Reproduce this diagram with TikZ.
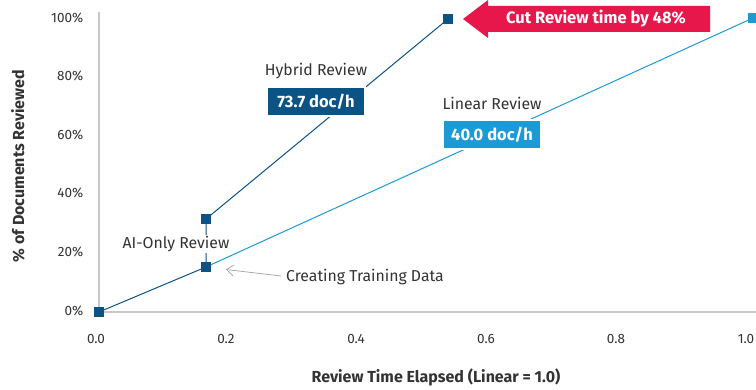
\documentclass[tikz,border=0pt]{standalone}
\usepackage{fontspec}
\setmainfont{Fira Sans}
\usetikzlibrary{arrows.meta}
\definecolor{hybridblue}{HTML}{0B5285}
\definecolor{linearblue}{HTML}{1B9AD6}
\definecolor{axisgray}{HTML}{C8C8C8}
\definecolor{txt}{HTML}{333333}
\definecolor{cutred}{HTML}{E8174B}
\tikzset{
  tick/.style={font=\fontsize{13.5}{15}\selectfont, text=txt, inner sep=0pt},
  series/.style={font=\fontsize{15.8}{18}\selectfont, text=txt, inner sep=1pt},
  ratebox/.style={font=\fontsize{16.5}{18}\selectfont\bfseries, text=white, minimum width=98pt, minimum height=29pt, inner sep=0pt, draw=white, line width=1.5pt},
  marker/.style={fill=hybridblue, minimum size=10pt, inner sep=0pt},
  axistitle/.style={font=\fontsize{16}{18}\selectfont\bfseries, text=txt, inner sep=0pt},
}
\begin{document}
\begin{tikzpicture}[x=1pt, y=-1pt]
\useasboundingbox (0,0) rectangle (756,390);

% axes
\draw[axisgray, line width=1.2pt] (99,12) -- (99,312) -- (756,312);

% y tick labels
\foreach \v/\y in {0/311,20/252,40/193,60/135,80/76,100/17.5}
  \node[tick, anchor=east] (ylab\v) at (83.5,\y) {\v\%};
% x tick labels
\foreach \v/\x in {0.0/96,0.2/226,0.4/356,0.6/486,0.8/616,1.0/746}
  \node[tick] (xlab\v) at (\x,339) {\v};

% axis titles
\node[axistitle, rotate=90] (ytitle) at (18,166) {\% of Documents Reviewed};
\node[axistitle] (xtitle) at (436,377) {Review Time Elapsed (Linear = 1.0)};

% data points
\coordinate (p0) at (99,312);
\coordinate (p1) at (206,267);
\coordinate (p2) at (206,219);
\coordinate (p3) at (448,19);
\coordinate (p4) at (753,18);

% series lines
\draw[linearblue, line width=1pt] (p1) -- (p4);
\draw[hybridblue, line width=1pt] (p0) -- (p1) -- (p2) -- (p3);

% labels
\node[series, fill=white] (ailab) at (176,244) {AI-Only Review};
\node[series] (hyblab) at (316,71) {Hybrid Review};
\node[series] (linlab) at (492,103) {Linear Review};
\node[ratebox, fill=hybridblue] (hybrate) at (316,101.5) {73.7 doc/h};
\node[ratebox, fill=linearblue] (linrate) at (492,134.5) {40.0 doc/h};
\node[series, anchor=west] (trainlab) at (285,277) {Creating Training Data};
\draw[axisgray!80!black, line width=0.7pt, -{Straight Barb[length=7pt, width=11pt]}]
  (trainlab.west) ++(-4,-1) -- (226,269.5);

% markers
\foreach \i in {0,...,3}
  \node[marker] (m\i) at (p\i) {};
\node[marker, fill=linearblue] (m4) at (p4) {};

% call-out arrow
\fill[cutred] (463,19) -- (488,0) -- (488,6) -- (710,6) -- (710,32) -- (488,32) -- (488,38) -- cycle;
\node[font=\fontsize{16.5}{18}\selectfont\bfseries, text=white] (cut) at (596,19) {Cut Review time by 48\%};
\end{tikzpicture}
\end{document}
